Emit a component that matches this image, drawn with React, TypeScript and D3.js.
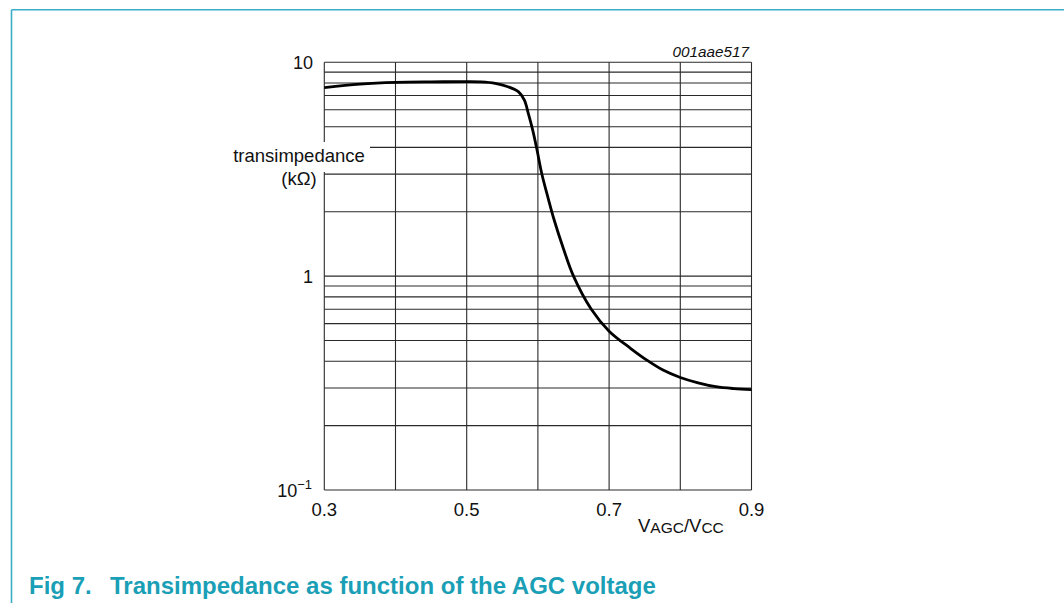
import React from "react";
import * as d3 from "d3";

const vagc: number[] = [0.30, 0.35, 0.40, 0.45, 0.50, 0.52, 0.54, 0.558, 0.5725, 0.581, 0.5865, 0.5927, 0.5983, 0.6053, 0.6146, 0.622, 0.636, 0.65, 0.675, 0.70, 0.73, 0.753, 0.775, 0.80, 0.825, 0.85, 0.875, 0.90];
const transimpedance: number[] = [7.62, 7.9, 8.05, 8.1, 8.12, 8.1, 7.98, 7.69, 7.29, 6.66, 5.77, 4.82, 3.96, 3.03, 2.3, 1.87, 1.34, 1.0, 0.70, 0.553, 0.46, 0.405, 0.365, 0.336, 0.317, 0.304, 0.298, 0.295];

const xGridValues: number[] = [0.3, 0.4, 0.5, 0.6, 0.7, 0.8, 0.9];
const xTickLabels: string[] = ["0.3", "0.5", "0.7", "0.9"];
const xTickValues: number[] = [0.3, 0.5, 0.7, 0.9];
const yGridValues: number[] = [0.2, 0.3, 0.4, 0.5, 0.6, 0.7, 0.8, 0.9, 1, 2, 3, 4, 5, 6, 7, 8, 9, 10];

const TEAL = "#1a9fb6";
const FONT = "'Liberation Sans', Arial, Helvetica, sans-serif";

export default function App() {
  const x = d3.scaleLinear().domain([0.3, 0.9]).range([324.3, 751.5]);
  const y = d3.scaleLog().domain([0.1, 10]).range([490, 62.3]);

  const pts: [number, number][] = vagc.map((v, i) => [v, transimpedance[i]]);
  const line = d3
    .line<[number, number]>()
    .x((d) => x(d[0]))
    .y((d) => y(d[1]))
    .curve(d3.curveCatmullRom.alpha(0.5));

  const x0 = x(0.3);
  const x1 = x(0.9);
  const yTop = y(10);
  const yBot = y(0.1);

  return (
    <svg
      width={1064}
      height={603}
      style={{ position: "absolute", left: 0, top: 0, background: "#fff" }}
      fontFamily={FONT}
    >
      <rect x={0} y={0} width={1064} height={603} fill="#fff" />
      {/* frame */}
      <line x1={11.5} y1={9.7} x2={1064} y2={9.7} stroke="#3aaec6" strokeWidth={1.6} />
      <line x1={11.5} y1={9.7} x2={11.5} y2={603} stroke="#3aaec6" strokeWidth={1.6} />

      {/* grid */}
      <g stroke="#2a2a2a" strokeWidth={1.1}>
        {yGridValues.map((v) => (
          <line key={"h" + v} x1={x0} x2={x1} y1={y(v)} y2={y(v)} />
        ))}
        <line x1={x0} x2={x1} y1={yBot} y2={yBot} />
        {xGridValues.map((v) => (
          <line key={"v" + v} x1={x(v)} x2={x(v)} y1={yTop} y2={yBot} />
        ))}
      </g>

      {/* curve */}
      <path d={line(pts) || ""} fill="none" stroke="#000" strokeWidth={2.8} strokeLinejoin="round" />

      {/* y axis label with white background */}
      <rect x={228} y={142} width={142} height={30} fill="#fff" />
      <text x={299} y={162} fontSize={18.5} textAnchor="middle" fill="#111">
        transimpedance
      </text>
      <text x={299} y={184.5} fontSize={18.5} textAnchor="middle" fill="#111">
        (kΩ)
      </text>

      {/* y tick labels */}
      <text x={313} y={y(10) + 7} fontSize={18} textAnchor="end" fill="#111">
        10
      </text>
      <text x={313} y={y(1) + 7} fontSize={18} textAnchor="end" fill="#111">
        1
      </text>
      <text x={312} y={y(0.1) + 6.5} fontSize={18} textAnchor="end" fill="#111">
        10
        <tspan fontSize={13} dy={-8}>
          −1
        </tspan>
      </text>

      {/* x tick labels */}
      {xTickValues.map((v, i) => (
        <text key={"xt" + v} x={x(v)} y={516} fontSize={18.5} textAnchor="middle" fill="#111">
          {xTickLabels[i]}
        </text>
      ))}

      {/* x axis title */}
      <text x={638} y={532} fontSize={18.5} fill="#111">
        V<tspan fontSize={15.5} dy={1}>AGC</tspan>
        <tspan fontSize={18.5} dy={-1}>/V</tspan>
        <tspan fontSize={15.5} dy={1}>CC</tspan>
      </text>

      {/* figure id */}
      <text x={749} y={56.5} fontSize={15.3} fontStyle="italic" textAnchor="end" fill="#111">
        001aae517
      </text>

      {/* caption */}
      <text x={29} y={594} fontSize={24} fontWeight="bold" fill={TEAL}>
        Fig 7.
      </text>
      <text x={110} y={594} fontSize={24} fontWeight="bold" fill={TEAL}>
        Transimpedance as function of the AGC voltage
      </text>
    </svg>
  );
}
